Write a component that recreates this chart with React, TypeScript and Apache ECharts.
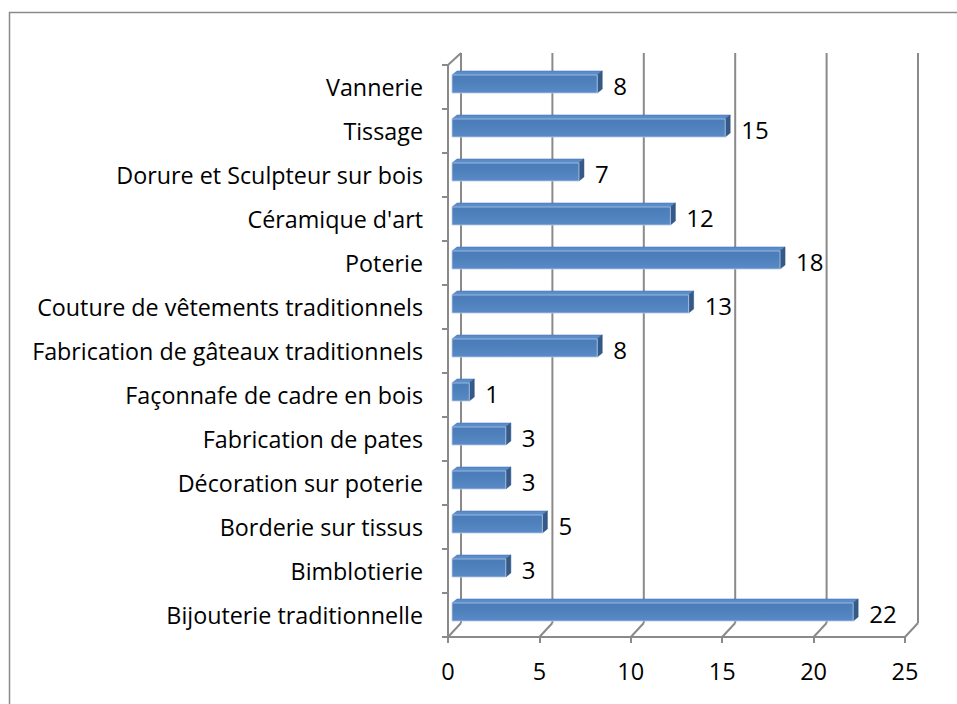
import React, { useEffect, useRef } from "react";
import * as echarts from "echarts";

const categories = [
  "Vannerie",
  "Tissage",
  "Dorure et Sculpteur sur bois",
  "Céramique d'art",
  "Poterie",
  "Couture de vêtements traditionnels",
  "Fabrication de gâteaux traditionnels",
  "Façonnafe de cadre en bois",
  "Fabrication de pates",
  "Décoration sur poterie",
  "Borderie sur tissus",
  "Bimblotierie",
  "Bijouterie traditionnelle",
];
const values = [8, 15, 7, 12, 18, 13, 8, 1, 3, 3, 5, 3, 22];
const xTicks = [0, 5, 10, 15, 20, 25];

const FONT = "Open Sans";
const GRAY = "#8a8a8a";

export default function App() {
  const ref = useRef<HTMLDivElement>(null);
  useEffect(() => {
    if (!ref.current) return;
    const chart = echarts.init(ref.current, null, { renderer: "svg" });
    const DX = 13;
    const DYT = 12;
    const DYB = 14;
    chart.setOption({
      animation: false,
      backgroundColor: "#ffffff",
      graphic: [
        {
          type: "rect",
          shape: { x: 9.5, y: 12.5, width: 1200, height: 1000 },
          style: { fill: "none", stroke: GRAY, lineWidth: 1.5 },
          silent: true,
        },
      ],
      grid: { left: 448, right: 52, top: 65, bottom: 67, containLabel: false },
      xAxis: {
        type: "value",
        min: 0,
        max: 25,
        interval: 5,
        axisLine: { show: true, lineStyle: { color: GRAY, width: 2 } },
        axisTick: { show: true, length: 6, lineStyle: { color: GRAY, width: 2 } },
        splitLine: { show: false },
        axisLabel: { fontFamily: FONT, fontSize: 23.5, color: "#000", margin: 22 },
      },
      yAxis: {
        type: "category",
        data: categories,
        inverse: true,
        axisLine: { show: true, lineStyle: { color: GRAY, width: 2 } },
        axisTick: { show: true, length: 6, lineStyle: { color: GRAY, width: 2 } },
        axisLabel: { fontFamily: FONT, fontSize: 23.3, color: "#000", margin: 25 },
      },
      series: [
        {
          type: "custom",
          silent: true,
          data: xTicks.map((v) => [v, 0]),
          encode: { x: 0, y: 1 },
          z: 1,
          renderItem: (params: any, api: any) => {
            const cs = params.coordSys;
            const v = api.value(0);
            const x = api.coord([v, 0])[0];
            const top = cs.y;
            const bot = cs.y + cs.height;
            const ls = { stroke: GRAY, lineWidth: 2 };
            const children: any[] = [
              { type: "line", shape: { x1: x + DX, y1: top - DYT, x2: x + DX, y2: bot - DYB }, style: ls },
              { type: "line", shape: { x1: x, y1: bot, x2: x + DX, y2: bot - DYB }, style: ls },
            ];
            if (v === 0) {
              children.push({ type: "line", shape: { x1: x, y1: top, x2: x + DX, y2: top - DYT }, style: ls });
            }
            return { type: "group", children };
          },
        },
        {
          type: "custom",
          silent: true,
          data: values.map((v, i) => [v, i]),
          encode: { x: 0, y: 1 },
          z: 2,
          renderItem: (params: any, api: any) => {
            const v = api.value(0);
            const idx = api.value(1);
            const p0 = api.coord([0, idx]);
            const p1 = api.coord([v, idx]);
            const band = api.size([0, 1])[1];
            const h = band * 0.41;
            const ox = 4;
            const oy = -3;
            const dx = 5;
            const dy = -4;
            const x0 = p0[0] + ox;
            const x1 = p1[0] + ox - 1;
            const yc = p0[1] + oy;
            const yt = yc - h / 2;
            const yb = yc + h / 2;
            return {
              type: "group",
              children: [
                {
                  type: "polygon",
                  shape: { points: [[x0, yt], [x1, yt], [x1 + dx, yt + dy], [x0 + dx, yt + dy]] },
                  style: { fill: "#5b8dcc", stroke: "#3f6ea8", lineWidth: 0.5 },
                },
                {
                  type: "polygon",
                  shape: { points: [[x1, yt], [x1 + dx, yt + dy], [x1 + dx, yb + dy], [x1, yb]] },
                  style: { fill: "#345a89", stroke: "#2d4f7a", lineWidth: 0.5 },
                },
                {
                  type: "rect",
                  shape: { x: x0, y: yt, width: x1 - x0, height: h },
                  style: {
                    fill: new echarts.graphic.LinearGradient(0, 0, 0, 1, [
                      { offset: 0, color: "#4a7cba" },
                      { offset: 0.5, color: "#4f81bd" },
                      { offset: 1, color: "#5a8bc8" },
                    ]),
                    stroke: "#b8cce4",
                    lineWidth: 0.8,
                  },
                },
                {
                  type: "text",
                  style: {
                    text: String(v),
                    x: x1 + dx + 11,
                    y: yc + 1,
                    textVerticalAlign: "middle",
                    verticalAlign: "middle",
                    fontFamily: FONT,
                    fontSize: 24,
                    fill: "#000",
                  },
                },
              ],
            };
          },
        },
      ],
    });
    return () => chart.dispose();
  }, []);
  return (
    <div
      ref={ref}
      style={{ position: "fixed", left: 0, top: 0, width: 957, height: 704, background: "#fff" }}
    />
  );
}
